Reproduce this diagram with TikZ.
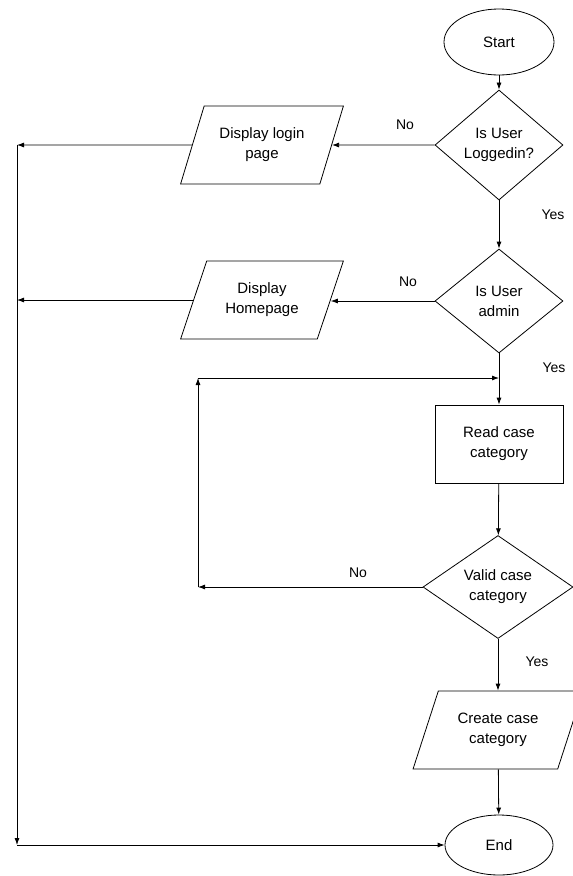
\documentclass[tikz,border=0pt]{standalone}
\usepackage{fontspec}
\setmainfont{Liberation Sans}
\usetikzlibrary{shapes.geometric,arrows.meta}
\begin{document}
\begin{tikzpicture}[x=1pt,y=-1pt,
  every node/.style={font=\fontsize{15}{20}\selectfont, align=center},
  ln/.style={line width=0.8pt},
  arr/.style={ln, -{Latex[length=7pt,width=5pt]}},
  term/.style={ellipse, draw, ln, minimum width=110pt, minimum height=66pt, inner sep=0pt},
  dec/.style={diamond, draw, ln, inner sep=0pt},
  io/.style={trapezium, trapezium left angle=63, trapezium right angle=117, trapezium stretches=true, draw, ln, minimum width=163pt, minimum height=78pt, inner sep=0pt},
  proc/.style={rectangle, draw, ln, minimum width=128pt, minimum height=78pt},
  lbl/.style={font=\fontsize{14}{16}\selectfont}
]
\useasboundingbox (0,0) rectangle (573,876);
\node[term] (start) at (499,42) {Start};
\node[dec, minimum width=128pt, minimum height=110pt] (d1) at (499,145) {Is User\\Loggedin?};
\node[io] (p1) at (262,145) {Display login\\page};
\node[dec, minimum width=128pt, minimum height=104pt] (d2) at (499,301) {Is User\\admin};
\node[io] (p2) at (262,300) {Display\\Homepage};
\node[proc] (rc) at (499,444) {Read case\\category};
\node[dec, minimum width=150pt, minimum height=103pt] (d3) at (498,587) {Valid case\\category};
\node[io, minimum width=170pt] (p3) at (498,730) {Create case\\category};
\node[term, minimum width=108pt, minimum height=60pt] (end) at (499,845) {End};

\coordinate (lt) at (17,145);
\coordinate (lb) at (17,845);
\coordinate (lc1) at (198,378);
\coordinate (lc2) at (d3.west -| lc1);
\coordinate (lj) at (d2.south |- lc1);

\draw[arr] (start) -- (d1);
\draw[arr] (d1) -- (d2);
\draw[arr] (d1.west) -- (p1.east);
\draw[arr] (p1.west) -- (lt);
\draw[arr] (d2.west) -- (d2.west -| p2.east);
\draw[arr] (p2.west) -- (p2.west -| lt);
\draw[arr] (lt) -- (lb);
\draw[arr] (lb) -- (end);
\draw[arr] (d2) -- (rc);
\draw[arr] (lc1) -- (lj);
\draw[arr] (rc) -- (d3);
\draw[arr] (d3.west) -- (lc2);
\draw[arr] (lc2) -- (lc1);
\draw[arr] (d3) -- (p3);
\draw[arr] (p3) -- (end);

\node[lbl] (n1) at (405,125) {No};
\node[lbl] (n2) at (408,282) {No};
\node[lbl] (n3) at (358,573) {No};
\node[lbl] (y1) at (553,215) {Yes};
\node[lbl] (y2) at (554,368) {Yes};
\node[lbl] (y3) at (537,662) {Yes};
\end{tikzpicture}
\end{document}
